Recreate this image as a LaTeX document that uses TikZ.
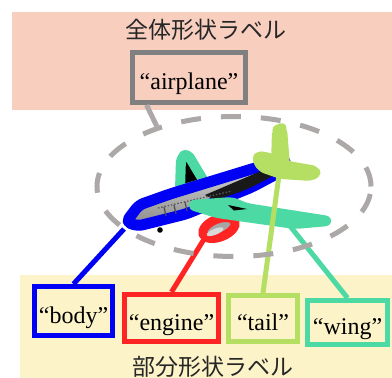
\documentclass[tikz,border=0pt]{standalone}
\usepackage{fontspec}
\setmainfont{Liberation Serif}
\newfontfamily\jpfont{Noto Sans CJK JP}
\usetikzlibrary{calc,shapes.geometric}

\definecolor{bandpink}{HTML}{F8CEBF}
\definecolor{bandyellow}{HTML}{FCF3C8}
\definecolor{boxgray}{HTML}{808080}
\definecolor{ringgray}{HTML}{ABA8A7}
\definecolor{partblue}{HTML}{0000F5}
\definecolor{partred}{HTML}{FF2424}
\definecolor{parttail}{HTML}{B5DF63}
\definecolor{partwing}{HTML}{4CD9A3}

\begin{document}
\begin{tikzpicture}[x=1pt,y=-1pt,
  labelbox/.style={draw, line width=5pt, inner sep=0pt,
    font=\fontsize{24}{28}\selectfont, text=black,
    text height=24pt, text depth=0pt},
  link/.style={line width=5pt},
  heading/.style={font=\jpfont\fontsize{23}{26}\selectfont, text=black!85},
  outline/.style={line width=10pt, line join=round, rounded corners=5pt}]
\useasboundingbox (0,0) rectangle (392,378);
\fill[white] (0,0) rectangle (392,378);

% label bands
\fill[bandpink] (12,12) rectangle (392,110);
\fill[bandyellow] (20,275) rectangle (392,378);

\node[heading] (wholetitle) at (206,30) {全体形状ラベル};
\node[heading] (parttitle) at (213,367) {部分形状ラベル};

% label boxes
\node[labelbox, draw=boxgray, minimum width=113pt, minimum height=50pt] (airplane) at (189,77.5) {“airplane”};
\node[labelbox, draw=partblue, minimum width=78pt, minimum height=49pt] (body) at (73.5,311) {“body”};
\node[labelbox, draw=partred, minimum width=94pt, minimum height=47pt] (engine) at (171.5,318) {“engine”};
\node[labelbox, draw=parttail, minimum width=69pt, minimum height=46pt] (tail) at (263,318.5) {“tail”};
\node[labelbox, draw=partwing, minimum width=80pt, minimum height=44pt] (wing) at (347.5,322.5) {“wing”};

% far wing
\draw[outline, draw=partwing, fill=black] (180,190) -- (181,158) -- (187,153) -- (205,183) -- cycle;

% fuselage
\draw[outline, line width=11pt, draw=partblue, top color=black!15, bottom color=black!45]
  (126,222) -- (139,205) -- (170,194) -- (255,168) -- (287,160) -- (284,170)
  -- (252,187) -- (186,214) -- (138,226) -- cycle;
\begin{scope}
  \clip[rounded corners=5pt] (126,222) -- (139,205) -- (170,194) -- (255,168)
    -- (287,160) -- (284,170) -- (252,187) -- (186,214) -- (138,226) -- cycle;
  \fill[black!90] (205,195) -- (268,168) -- (292,158) -- (262,185) -- (215,200) -- cycle;
  \draw[black!65, line width=1.3pt, dash pattern=on 1.5pt off 1.8pt] (158,208) -- (232,191);
  \draw[black!70, line width=1.2pt] (164,207) -- (166,216) (174,205) -- (176,214) (185,202) -- (187,211);
\end{scope}

% engine
\draw[line width=9pt, draw=partred, fill=black!35, rotate around={22:(219,228)}]
  (219,228) ellipse [x radius=17pt, y radius=9pt];
\fill[black!15, rotate around={22:(219,228)}] (214,230) ellipse [x radius=9pt, y radius=3pt];

% near wing
\draw[outline, draw=partwing, fill=partwing] (191,205) -- (232,202) -- (246,208)
  -- (329,221) -- (295,224) -- (217,213) -- cycle;
\fill[black] (228,205) -- (247,209) -- (234,210.5) -- cycle;

% tail fin and stabilizer
\draw[outline, draw=parttail, fill=black!40] (276,166) -- (277,130) -- (282,128) -- (285,166) -- cycle;
\draw[outline, draw=parttail, fill=parttail] (256,156) -- (267,157) -- (288,166) -- (317,171)
  -- (312,176) -- (281,174) -- (261,167) -- cycle;

% landing gear
\fill[black] (160,230) circle (2.8pt);

% part anchors on the drawing
\coordinate (noseend) at (124,229);
\coordinate (engineend) at (206,236);
\coordinate (tailend) at (279,175);
\coordinate (wingend) at (290,226);

\draw[link, partblue] (noseend) -- (body.north);
\draw[link, partred] (engineend) -- (engine.north);
\draw[link, parttail] (tailend) -- (tail.north);
\draw[link, partwing] (wingend) -- (wing.north);

% whole-shape outline
\node[ellipse, draw=ringgray, line width=5pt, dash pattern=on 20pt off 20pt,
  minimum width=274pt, minimum height=140pt, inner sep=0pt] (ring) at (234,186.5) {};
\draw[link, ringgray] ($(airplane.south west)!0.14!(airplane.south east)$) -- (ring.142);
\end{tikzpicture}
\end{document}
